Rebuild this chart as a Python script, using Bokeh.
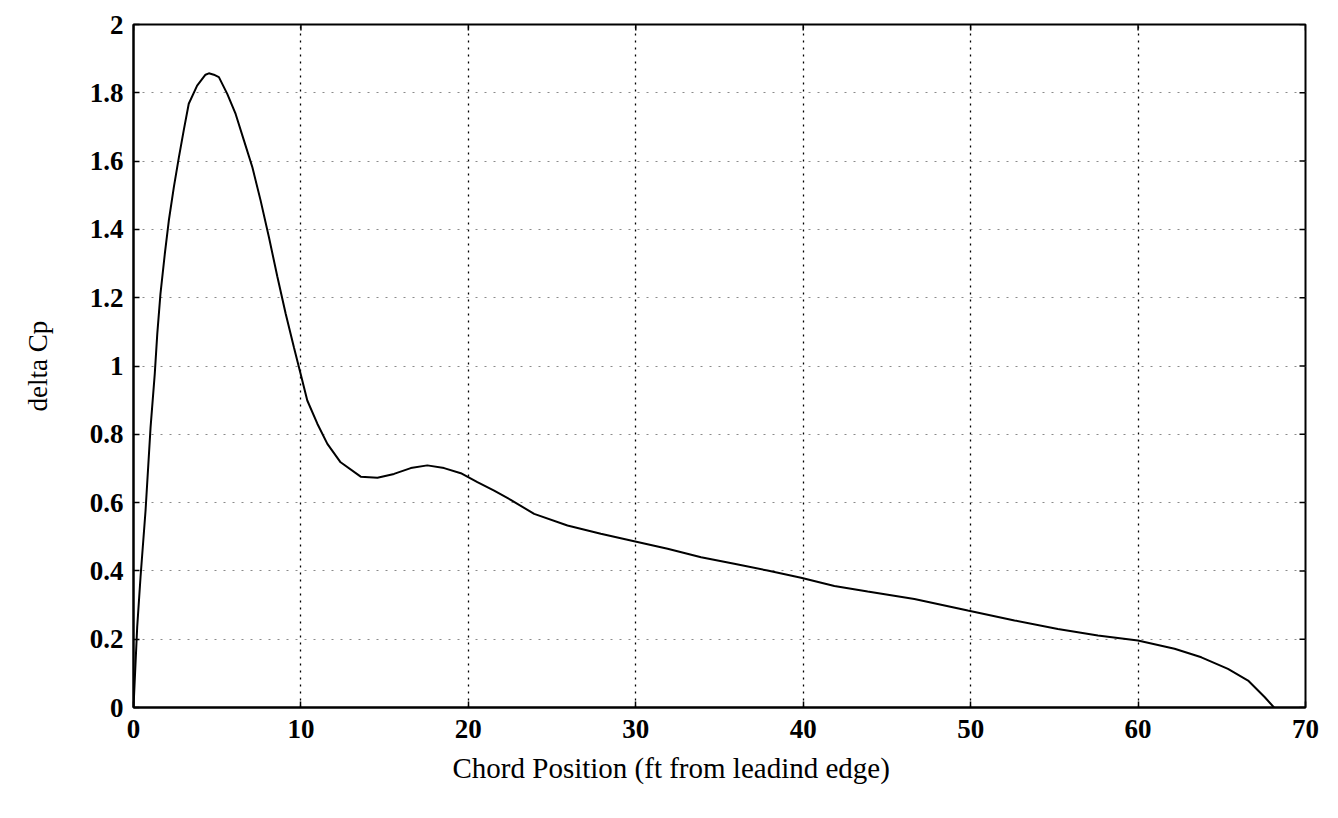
from bokeh.plotting import figure
from bokeh.models import FixedTicker, Range1d, Title
from bokeh.embed import file_html
from bokeh.resources import INLINE

# Data
chord_x = [0, 0.22, 0.42, 0.72, 1.02, 1.27, 1.42, 1.61, 1.87, 2.11, 2.41, 2.71,
           3.0, 3.3, 3.8, 4.3, 4.5, 4.8, 5.1, 5.6, 6.1, 6.6, 7.1, 7.59, 8.09,
           8.59, 9.09, 9.58, 9.98, 10.38, 10.98, 11.58, 12.37, 13.57, 14.57,
           15.56, 16.56, 17.55, 18.55, 19.55, 20.54, 21.54, 22.53, 23.93, 25.92,
           27.91, 29.9, 31.9, 33.9, 35.88, 37.87, 39.87, 41.86, 43.85, 46.64,
           49.83, 52.62, 55.21, 57.6, 59.99, 62.18, 63.78, 65.37, 66.57, 67.57,
           68.12]
delta_cp = [0, 0.235, 0.382, 0.577, 0.821, 0.977, 1.094, 1.211, 1.328, 1.426,
            1.524, 1.611, 1.690, 1.768, 1.821, 1.853, 1.857, 1.853, 1.846,
            1.797, 1.738, 1.660, 1.582, 1.485, 1.377, 1.262, 1.153, 1.055, 0.977,
            0.899, 0.831, 0.772, 0.718, 0.676, 0.673, 0.684, 0.701, 0.709, 0.701,
            0.686, 0.660, 0.635, 0.608, 0.567, 0.533, 0.509, 0.487, 0.465, 0.440,
            0.421, 0.401, 0.380, 0.356, 0.340, 0.318, 0.284, 0.255, 0.230, 0.211,
            0.196, 0.172, 0.147, 0.113, 0.079, 0.030, 0.0]

x_ticks = [0, 10, 20, 30, 40, 50, 60, 70]
y_ticks = [0, 0.2, 0.4, 0.6, 0.8, 1.0, 1.2, 1.4, 1.6, 1.8, 2.0]
y_tick_labels = ["0", "0.2", "0.4", "0.6", "0.8", "1", "1.2", "1.4", "1.6", "1.8", "2"]
x_tick_labels = ["0", "10", "20", "30", "40", "50", "60", "70"]
x_title = "Chord Position  (ft from leadind edge)"
y_title = "delta Cp"

FONT = "Liberation Serif"
X_MIN, X_MAX, Y_MIN, Y_MAX = 0, 70, 0, 2

p = figure(width=1322, height=802, output_backend="svg", toolbar_location=None,
           x_range=Range1d(X_MIN, X_MAX), y_range=Range1d(Y_MIN, Y_MAX),
           min_border_left=133, min_border_right=17, min_border_top=24,
           min_border_bottom=95)
p.background_fill_color = "white"
p.border_fill_color = "white"
p.outline_line_color = "black"
p.outline_line_width = 2

# grid
p.xgrid.ticker = FixedTicker(ticks=x_ticks)
p.xgrid.grid_line_color = "black"
p.xgrid.grid_line_dash = "2 5"
p.xgrid.grid_line_width = 1.3
p.ygrid.ticker = FixedTicker(ticks=y_ticks)
p.ygrid.grid_line_color = "#8a8a8a"
p.ygrid.grid_line_dash = "2 7"
p.ygrid.grid_line_width = 1

p.line(chord_x, delta_cp, line_color="black", line_width=2)

# mirrored inward ticks on top and right edges (6 px long)
tick_len_y = 6 * (Y_MAX - Y_MIN) / (707 - 24)
tick_len_x = 6 * (X_MAX - X_MIN) / (1305 - 133)
p.segment(x0=x_ticks, y0=[Y_MAX] * len(x_ticks), x1=x_ticks,
          y1=[Y_MAX - tick_len_y] * len(x_ticks), line_color="black", line_width=1.5)
p.segment(x0=[X_MAX] * len(y_ticks), y0=y_ticks, x1=[X_MAX - tick_len_x] * len(y_ticks),
          y1=y_ticks, line_color="black", line_width=1.5)

def style_axis(ax, ticks, labels):
    ax.ticker = FixedTicker(ticks=ticks)
    ax.axis_line_color = "black"
    ax.axis_line_width = 2
    ax.major_tick_in = 6
    ax.major_tick_out = 0
    ax.major_tick_line_color = "black"
    ax.major_tick_line_width = 1.5
    ax.minor_tick_line_color = None
    ax.major_label_overrides = {t: l for t, l in zip(ticks, labels)}
    ax.major_label_text_font = FONT
    ax.major_label_text_font_size = "27px"
    ax.major_label_text_font_style = "bold"
    ax.major_label_text_color = "black"

xa = p.xaxis[0]
style_axis(xa, x_ticks, x_tick_labels)
xa.major_label_standoff = 12

ya = p.yaxis[0]
style_axis(ya, y_ticks, y_tick_labels)
ya.major_label_standoff = 10
ya.axis_label = y_title
ya.axis_label_text_font = FONT
ya.axis_label_text_font_size = "27px"
ya.axis_label_text_font_style = "normal"
ya.axis_label_text_color = "black"
ya.axis_label_standoff = 34

xt = Title(text=x_title, align="left", offset=319, text_font=FONT,
           text_font_size="29px", text_font_style="normal", text_color="black",
           standoff=19)
p.add_layout(xt, "below")

open("out.html", "w").write(file_html(p, INLINE))
